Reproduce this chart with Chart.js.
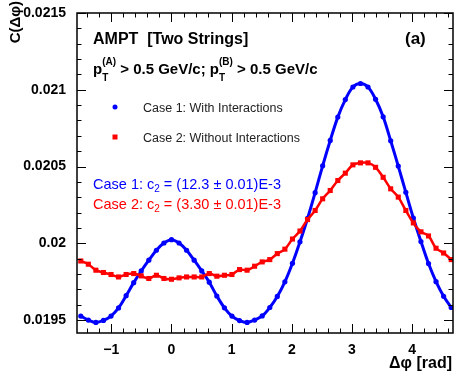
<!DOCTYPE html>
<html lang="en">
<head>
<meta charset="utf-8">
<title>AMPT two strings C(dphi)</title>
<script src="https://cdn.jsdelivr.net/npm/chart.js@4.4.1/dist/chart.umd.min.js"></script>
<style>
  body { margin: 0; background: #fff; }
  #chart { display: block; }
</style>
</head>
<body>
<canvas id="chart" width="457" height="374"></canvas>
<script>
// bin centres in delta phi (rad)
const dphi = [
  -1.508, -1.382, -1.257, -1.131, -1.005, -0.880, -0.754, -0.628, -0.503, -0.377,
  -0.251, -0.126, 0.000, 0.126, 0.251, 0.377, 0.503, 0.628, 0.754, 0.880,
  1.005, 1.131, 1.257, 1.382, 1.508, 1.634, 1.759, 1.885, 2.011, 2.136,
  2.262, 2.388, 2.513, 2.639, 2.765, 2.890, 3.016, 3.142, 3.267, 3.393,
  3.519, 3.644, 3.770, 3.896, 4.021, 4.147, 4.273, 4.398, 4.524, 4.650
];
// Case 1: with interactions (blue)
const case1 = [
  0.019526, 0.019500, 0.019485, 0.019498, 0.019526, 0.019579, 0.019659, 0.019744, 0.019820, 0.019890,
  0.019955, 0.020002, 0.020024, 0.020002, 0.019955, 0.019890, 0.019820, 0.019747, 0.019657, 0.019580,
  0.019526, 0.019497, 0.019485, 0.019500, 0.019527, 0.019582, 0.019654, 0.019749, 0.019870, 0.020010,
  0.020162, 0.020330, 0.020505, 0.020670, 0.020822, 0.020936, 0.021018, 0.021041, 0.021018, 0.020938,
  0.020824, 0.020668, 0.020503, 0.020332, 0.020165, 0.020012, 0.019868, 0.019750, 0.019655, 0.019582
];
// Case 2: without interactions (red)
const case2 = [
  0.019885, 0.019864, 0.019825, 0.019810, 0.019797, 0.019781, 0.019797, 0.019803, 0.019788, 0.019771,
  0.019792, 0.019771, 0.019766, 0.019775, 0.019781, 0.019781, 0.019781, 0.019803, 0.019786, 0.019792,
  0.019797, 0.019829, 0.019825, 0.019851, 0.019879, 0.019894, 0.019933, 0.019962, 0.020028, 0.020080,
  0.020155, 0.020214, 0.020290, 0.020344, 0.020409, 0.020457, 0.020511, 0.020524, 0.020524, 0.020495,
  0.020430, 0.020355, 0.020301, 0.020214, 0.020133, 0.020075, 0.020048, 0.019968, 0.019937, 0.019894
];
const xTicks = [-1, 0, 1, 2, 3, 4];
const yTicks = [0.0195, 0.02, 0.0205, 0.021, 0.0215];

const BLUE = 'rgb(0,0,255)';
const RED = 'rgb(255,0,0)';
const FONT = '"Liberation Sans", Arial, Helvetica, sans-serif';

// frame, inside ticks and the text boxes (ROOT style)
const overlay = {
  id: 'overlay',
  afterDatasetsDraw(chart) {
    const { ctx, chartArea: a, scales: { x, y } } = chart;
    ctx.save();
    ctx.strokeStyle = '#000';
    ctx.lineWidth = 1;
    ctx.beginPath();
    for (let k = -7; k <= 23; k++) {
      const v = k * 0.2;
      if (v < x.min || v > x.max) continue;
      const px = Math.round(x.getPixelForValue(v)) + 0.5;
      const len = k % 5 === 0 ? 9 : 4.5;
      ctx.moveTo(px, a.bottom); ctx.lineTo(px, a.bottom - len);
      ctx.moveTo(px, a.top); ctx.lineTo(px, a.top + len);
    }
    for (let k = 0; k <= 20; k++) {
      const v = 0.0195 + k * 0.0001;
      if (v > y.max + 1e-9) continue;
      const py = Math.round(y.getPixelForValue(v)) + 0.5;
      const len = k % 5 === 0 ? 9 : 4.5;
      ctx.moveTo(a.left, py); ctx.lineTo(a.left + len, py);
      ctx.moveTo(a.right, py); ctx.lineTo(a.right - len, py);
    }
    ctx.stroke();
    ctx.lineWidth = 1.5;
    ctx.strokeRect(a.left, a.top, a.right - a.left, a.bottom - a.top);

    ctx.fillStyle = '#000';
    ctx.textBaseline = 'alphabetic';
    ctx.textAlign = 'left';
    ctx.font = 'bold 16px ' + FONT;
    ctx.fillText('AMPT  [Two Strings]', 93, 44);
    ctx.font = 'bold 17px ' + FONT;
    ctx.fillText('(a)', 405, 44);

    // pT cuts line with sub/superscripts
    let cx = 93;
    const base = 74;
    const part = (txt, size, dy) => {
      ctx.font = 'bold ' + size + 'px ' + FONT;
      ctx.fillText(txt, cx, base + dy);
      return ctx.measureText(txt).width;
    };
    const pT = (lab) => {
      cx += part('p', 15, 0);
      const w1 = part('(' + lab + ')', 10, -9);
      part('T', 10, 7);
      cx += w1;
    };
    pT('A');
    cx += part(' > 0.5 GeV/c; ', 15, 0);
    pT('B');
    cx += part(' > 0.5 GeV/c', 15, 0);

    // legend
    ctx.fillStyle = BLUE;
    ctx.beginPath();
    ctx.arc(115, 107, 2.5, 0, Math.PI * 2);
    ctx.fill();
    ctx.fillStyle = RED;
    ctx.fillRect(112.5, 134.5, 5, 5);
    ctx.fillStyle = '#222';
    ctx.font = '12.5px ' + FONT;
    ctx.fillText('Case 1: With Interactions', 143, 112);
    ctx.fillText('Case 2: Without Interactions', 143, 142);

    // c2 results
    const c2line = (color, val, yb) => {
      ctx.fillStyle = color;
      let tx = 93;
      ctx.font = '14.5px ' + FONT;
      ctx.fillText('Case ' + val[0] + ': c', tx, yb);
      tx += ctx.measureText('Case ' + val[0] + ': c').width;
      ctx.font = '10px ' + FONT;
      ctx.fillText('2', tx, yb + 3);
      tx += ctx.measureText('2').width;
      ctx.font = '14.5px ' + FONT;
      ctx.fillText(' = (' + val[1] + ' \u00b1 0.01)E-3', tx, yb);
    };
    c2line(BLUE, ['1', '12.3'], 189);
    c2line(RED, ['2', '3.30'], 209);

    // axis titles
    ctx.fillStyle = '#000';
    ctx.font = 'bold 16px ' + FONT;
    ctx.textAlign = 'right';
    ctx.textBaseline = 'middle';
    ctx.fillText('\u0394\u03c6 [rad]', 452, 364);
    ctx.translate(16, 1);
    ctx.rotate(-Math.PI / 2);
    ctx.font = 'bold 15px ' + FONT;
    ctx.fillText('C(\u0394\u03c6)', 0, 0);
    ctx.restore();
  }
};

const pts = (vals) => dphi.map((v, i) => ({ x: v, y: vals[i] }));

new Chart(document.getElementById('chart'), {
  type: 'line',
  data: {
    datasets: [
      {
        label: 'Case 2: Without Interactions',
        data: pts(case2),
        borderColor: RED,
        backgroundColor: RED,
        borderWidth: 2.5,
        tension: 0.35,
        pointStyle: 'rect',
        pointRadius: 3.6,
        pointBorderWidth: 0
      },
      {
        label: 'Case 1: With Interactions',
        data: pts(case1),
        borderColor: BLUE,
        backgroundColor: BLUE,
        borderWidth: 3,
        tension: 0.35,
        pointStyle: 'circle',
        pointRadius: 2.6,
        pointBorderWidth: 0
      }
    ]
  },
  options: {
    responsive: false,
    animation: false,
    layout: { padding: { top: 13, right: 4, left: 0, bottom: 0 } },
    plugins: { legend: { display: false }, tooltip: { enabled: false } },
    scales: {
      x: {
        type: 'linear',
        min: -1.5708,
        max: 4.68,
        grid: { display: false },
        border: { display: false },
        afterBuildTicks: (s) => { s.ticks = xTicks.map(v => ({ value: v })); },
        afterFit: (s) => { s.height = 41; },
        ticks: {
          padding: 1,
          maxRotation: 0,
          color: '#000',
          font: { family: FONT, size: 14, weight: 'bold' },
          callback: (v) => v < 0 ? '\u2212' + Math.abs(v) : String(v)
        }
      },
      y: {
        min: 0.019416,
        max: 0.02150,
        grid: { display: false },
        border: { display: false },
        afterBuildTicks: (s) => { s.ticks = yTicks.map(v => ({ value: v })); },
        afterFit: (s) => { s.width = 77; },
        ticks: {
          padding: 3,
          color: '#000',
          font: { family: FONT, size: 14, weight: 'bold' },
          callback: (v) => String(v)
        }
      }
    }
  },
  plugins: [overlay]
});
</script>
</body>
</html>
